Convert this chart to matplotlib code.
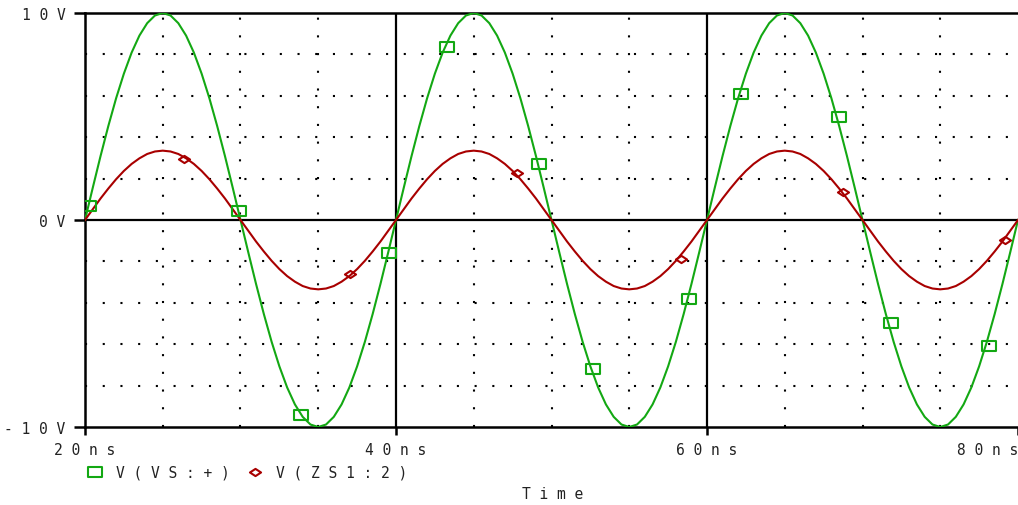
import numpy as np
import matplotlib
matplotlib.use('Agg')
import matplotlib.pyplot as plt
from matplotlib.lines import Line2D
from matplotlib.path import Path

# time axis (ns), sampled every 0.5 ns
t = np.linspace(20, 80, 121)

# V(VS:+) trace
vs = [0.00, 1.56, 3.09, 4.54, 5.88, 7.07, 8.09, 8.91, 9.51, 9.88,
      10.00, 9.88, 9.51, 8.91, 8.09, 7.07, 5.88, 4.54, 3.09, 1.56,
      0.00, -1.56, -3.09, -4.54, -5.88, -7.07, -8.09, -8.91, -9.51, -9.88,
      -10.00, -9.88, -9.51, -8.91, -8.09, -7.07, -5.88, -4.54, -3.09, -1.56,
      0.00, 1.56, 3.09, 4.54, 5.88, 7.07, 8.09, 8.91, 9.51, 9.88,
      10.00, 9.88, 9.51, 8.91, 8.09, 7.07, 5.88, 4.54, 3.09, 1.56,
      0.00, -1.56, -3.09, -4.54, -5.88, -7.07, -8.09, -8.91, -9.51, -9.88,
      -10.00, -9.88, -9.51, -8.91, -8.09, -7.07, -5.88, -4.54, -3.09, -1.56,
      0.00, 1.56, 3.09, 4.54, 5.88, 7.07, 8.09, 8.91, 9.51, 9.88,
      10.00, 9.88, 9.51, 8.91, 8.09, 7.07, 5.88, 4.54, 3.09, 1.56,
      0.00, -1.56, -3.09, -4.54, -5.88, -7.07, -8.09, -8.91, -9.51, -9.88,
      -10.00, -9.88, -9.51, -8.91, -8.09, -7.07, -5.88, -4.54, -3.09, -1.56,
      0.00]

# V(ZS1:2) trace
zs = [0.00, 0.52, 1.04, 1.52, 1.97, 2.37, 2.71, 2.98, 3.19, 3.31,
      3.35, 3.31, 3.19, 2.98, 2.71, 2.37, 1.97, 1.52, 1.04, 0.52,
      0.00, -0.52, -1.04, -1.52, -1.97, -2.37, -2.71, -2.98, -3.19, -3.31,
      -3.35, -3.31, -3.19, -2.98, -2.71, -2.37, -1.97, -1.52, -1.04, -0.52,
      0.00, 0.52, 1.04, 1.52, 1.97, 2.37, 2.71, 2.98, 3.19, 3.31,
      3.35, 3.31, 3.19, 2.98, 2.71, 2.37, 1.97, 1.52, 1.04, 0.52,
      0.00, -0.52, -1.04, -1.52, -1.97, -2.37, -2.71, -2.98, -3.19, -3.31,
      -3.35, -3.31, -3.19, -2.98, -2.71, -2.37, -1.97, -1.52, -1.04, -0.52,
      0.00, 0.52, 1.04, 1.52, 1.97, 2.37, 2.71, 2.98, 3.19, 3.31,
      3.35, 3.31, 3.19, 2.98, 2.71, 2.37, 1.97, 1.52, 1.04, 0.52,
      0.00, -0.52, -1.04, -1.52, -1.97, -2.37, -2.71, -2.98, -3.19, -3.31,
      -3.35, -3.31, -3.19, -2.98, -2.71, -2.37, -1.97, -1.52, -1.04, -0.52,
      0.00]

# marker positions
vs_mt = [20.28, 29.9, 33.87, 39.53, 43.26, 49.18, 52.65, 58.82, 62.17, 68.47, 71.81, 78.11]
vs_mv = [0.7, 0.45, -9.4, -1.58, 8.34, 2.7, -7.2, -3.83, 6.09, 4.96, -4.96, -6.09]
zs_mt = [26.39, 37.04, 47.76, 58.31, 68.72, 79.19]
zs_mv = [2.95, -2.62, 2.29, -1.88, 1.37, -0.97]

xticks = [20, 40, 60, 80]
xlabels = ['2 0 n s', '4 0 n s', '6 0 n s', '8 0 n s']
yticks = [-10, 0, 10]
ylabels = ['- 1 0 V', '0 V', '1 0 V']

green = '#13a813'
red = '#a80000'
txt = '#222222'
font = 'DejaVu Sans Mono'
fs = 10.5

rect = Path([(-1.3, -1), (1.3, -1), (1.3, 1), (-1.3, 1), (-1.3, -1)],
            [Path.MOVETO, Path.LINETO, Path.LINETO, Path.LINETO, Path.CLOSEPOLY])
diam = Path([(0, -0.65), (1, 0), (0, 0.65), (-1, 0), (0, -0.65)],
            [Path.MOVETO, Path.LINETO, Path.LINETO, Path.LINETO, Path.CLOSEPOLY])

fig = plt.figure(figsize=(10.18, 5.06), dpi=100)
ax = fig.add_axes([85 / 1018, 1 - 428 / 506, 933 / 1018, 414 / 506])

dots = (0, (1, 7.5))
for y in [-8, -6, -4, -2, 2, 4, 6, 8]:
    ax.axhline(y, color='black', lw=1.5, ls=dots, zorder=1)
for x in [25, 30, 35, 45, 50, 55, 65, 70, 75]:
    ax.axvline(x, color='black', lw=1.5, ls=dots, zorder=1)
ax.axhline(0, color='black', lw=1.6, zorder=1)
for x in [40, 60]:
    ax.axvline(x, color='black', lw=1.6, zorder=1)

ax.plot(t, vs, color=green, lw=1.5, zorder=3)
ax.plot(t, zs, color=red, lw=1.5, zorder=3)
ax.plot(vs_mt, vs_mv, ls='none', marker=rect, ms=9.5, mfc='none', mec=green, mew=1.5, zorder=4)
ax.plot(zs_mt, zs_mv, ls='none', marker=diam, ms=8, mfc='none', mec=red, mew=1.5, zorder=4)

ax.set_xlim(20, 80)
ax.set_ylim(-10, 10)
ax.spines['right'].set_visible(False)
for s in ['left', 'top', 'bottom']:
    ax.spines[s].set_linewidth(1.8)
ax.set_xticks(xticks)
ax.set_xticklabels(xlabels, family=font)
ax.set_yticks(yticks)
ax.set_yticklabels(ylabels, family=font)
ax.tick_params(axis='x', length=6, width=1.8, pad=5, labelsize=fs, labelcolor=txt)
ax.tick_params(axis='y', length=8, width=1.8, pad=6, labelsize=fs, labelcolor=txt)
ax.get_xticklabels()[-1].set_horizontalalignment('right')

# legend under the plot
fig.add_artist(Line2D([95 / 1018], [1 - 473 / 506], transform=fig.transFigure, ls='none',
                      marker=rect, ms=9.5, mfc='none', mec=green, mew=1.5))
fig.text(116 / 1018, 1 - 473 / 506, 'V ( V S : + )', fontsize=fs, family=font, color=txt, va='center')
fig.add_artist(Line2D([255 / 1018], [1 - 473 / 506], transform=fig.transFigure, ls='none',
                      marker=diam, ms=8, mfc='none', mec=red, mew=1.5))
fig.text(276 / 1018, 1 - 473 / 506, 'V ( Z S 1 : 2 )', fontsize=fs, family=font, color=txt, va='center')
fig.text(553 / 1018, 1 - 495 / 506, 'T i m e', fontsize=fs, family=font, color=txt, ha='center', va='center')

fig.savefig('out.png', dpi=100)
